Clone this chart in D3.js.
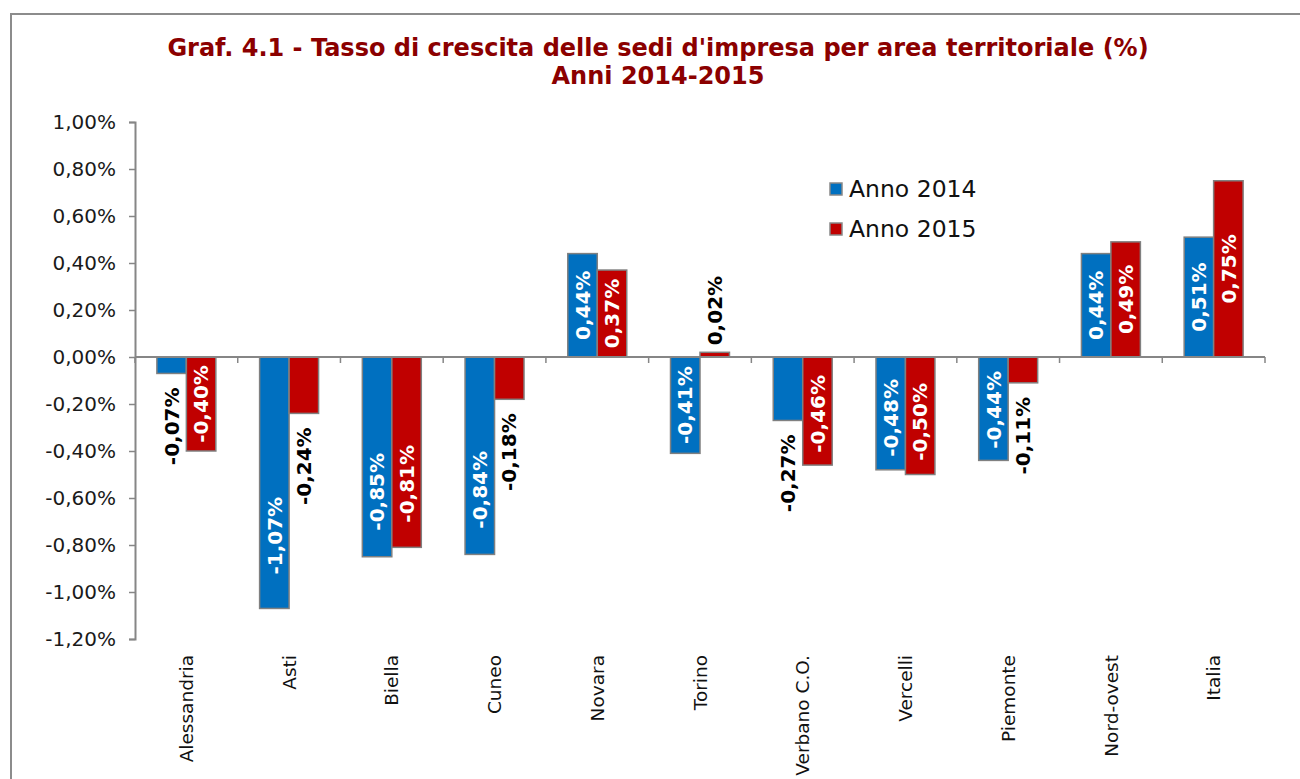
<!DOCTYPE html>
<html>
<head>
<meta charset="utf-8">
<script src="https://cdn.jsdelivr.net/npm/d3@7"></script>
<style>
  body { margin: 0; background: #fff; }
  svg { display: block; font-family: "DejaVu Sans", Verdana, sans-serif; }
</style>
</head>
<body>
<div id="chart"></div>
<script>
// Chart values
const categories = ["Alessandria", "Asti", "Biella", "Cuneo", "Novara", "Torino",
    "Verbano C.O.", "Vercelli", "Piemonte", "Nord-ovest", "Italia"]
const anno2014 = [-0.07, -1.07, -0.85, -0.84, 0.44, -0.41, -0.27, -0.48, -0.44, 0.44, 0.51]
const anno2015 = [-0.40, -0.24, -0.81, -0.18, 0.37, 0.02, -0.46, -0.50, -0.11, 0.49, 0.75]
const seriesNames = ["Anno 2014", "Anno 2015"]
const yTicks = [1.0, 0.8, 0.6, 0.4, 0.2, 0, -0.2, -0.4, -0.6, -0.8, -1.0, -1.2]
const titleLines = ["Graf. 4.1 - Tasso di crescita delle sedi d'impresa per area territoriale (%)",
    "Anni 2014-2015"]

const W = 1300, H = 779
const colors = ["#0070C0", "#C00000"]
const axisGrey = "#868686"

// Italian number format: 0,44%
const it = d3.formatLocale({ decimal: ",", thousands: ".", grouping: [3], currency: ["€", ""], minus: "-" })
const pct = v => it.format(".2%")(v / 100)

const svg = d3.select('#chart').append('svg')
    .attr('width', W).attr('height', H)

// outer frame
svg.append('rect')
    .attr('x', 11).attr('y', 14)
    .attr('width', W).attr('height', H)
    .attr('fill', 'none').attr('stroke', '#8c8c8c').attr('stroke-width', 2)

// title
svg.append('g').selectAll('text').data(titleLines).join('text')
    .attr('x', 658).attr('y', (d, i) => 56 + i * 28)
    .attr('text-anchor', 'middle')
    .attr('font-size', 24).attr('font-weight', 'bold')
    .attr('fill', '#8B0000')
    .text(d => d)

// scales
const x = d3.scaleBand().domain(categories).range([135, 1265])
const y = d3.scaleLinear().domain([-1.2, 1.0]).range([639, 122])
const barW = x.step() * 0.287

// y axis
const yAxis = svg.append('g')
    .attr('transform', 'translate(135,0)')
    .call(d3.axisLeft(y).tickValues(yTicks).tickSize(6).tickPadding(13).tickFormat(pct))
yAxis.select('.domain').attr('stroke', axisGrey).attr('stroke-width', 2)
yAxis.selectAll('.tick line').attr('stroke', axisGrey).attr('stroke-width', 1.5)
yAxis.selectAll('.tick text')
    .attr('font-size', 20).attr('fill', '#1a1a1a')
    .attr('font-family', '"DejaVu Sans", Verdana, sans-serif')

// bars
const series = [anno2014, anno2015]
series.forEach((vals, s) => {
    const g = svg.append('g')
    const items = vals.map((v, i) => ({ v, c: categories[i] }))
    g.selectAll('rect').data(items).join('rect')
        .attr('x', d => x(d.c) + x.bandwidth() / 2 - barW + s * barW)
        .attr('y', d => Math.min(y(d.v), y(0)))
        .attr('width', barW)
        .attr('height', d => Math.abs(y(d.v) - y(0)))
        .attr('fill', colors[s])
        .attr('stroke', '#808080').attr('stroke-width', 1.5)

    // data labels, rotated
    g.selectAll('text').data(items).join('text')
        .each(function (d) {
            const cx = x(d.c) + x.bandwidth() / 2 - barW / 2 + s * barW
            const len = Math.abs(y(d.v) - y(0))
            const t = d3.select(this)
            let cy, anchor, fill
            if (len >= 85) {
                cy = (y(d.v) + y(0)) / 2 + (d.v < 0 ? Math.max(0, (len - 100) * 0.35) : 0)
                anchor = 'middle'; fill = '#fff'
            } else if (d.v < 0) {
                cy = y(d.v) + 14; anchor = 'end'; fill = '#000'
            } else {
                cy = y(d.v) - 7; anchor = 'start'; fill = '#000'
            }
            t.attr('transform', `translate(${cx},${cy}) rotate(-90)`)
                .attr('text-anchor', anchor).attr('dy', '0.36em')
                .attr('fill', fill).attr('font-size', 20).attr('font-weight', 'bold')
                .text(pct(d.v))
        })
})

// category axis at zero
const xa = svg.append('g')
xa.append('line')
    .attr('x1', 135).attr('x2', 1265).attr('y1', y(0)).attr('y2', y(0))
    .attr('stroke', axisGrey).attr('stroke-width', 2)
xa.selectAll('line.tk').data(categories.map(c => x(c)).concat([x.range()[1]])).join('line')
    .attr('class', 'tk')
    .attr('x1', d => d).attr('x2', d => d)
    .attr('y1', y(0)).attr('y2', y(0) + 6)
    .attr('stroke', axisGrey).attr('stroke-width', 1.5)

// category labels
svg.append('g').selectAll('text').data(categories).join('text')
    .attr('transform', d => `translate(${x(d) + x.bandwidth() / 2},655) rotate(-90)`)
    .attr('text-anchor', 'end').attr('dy', '0.36em')
    .attr('font-size', 18.5).attr('fill', '#111')
    .text(d => d)

// legend
const lg = svg.append('g').selectAll('g').data(seriesNames).join('g')
    .attr('transform', (d, i) => `translate(830,${183 + i * 40})`)
lg.append('rect')
    .attr('width', 12).attr('height', 12)
    .attr('fill', (d, i) => colors[i])
    .attr('stroke', '#888').attr('stroke-width', 1.5)
lg.append('text')
    .attr('x', 19).attr('y', 14)
    .attr('font-size', 23.5).attr('fill', '#111')
    .text(d => d)
</script>
</body>
</html>
